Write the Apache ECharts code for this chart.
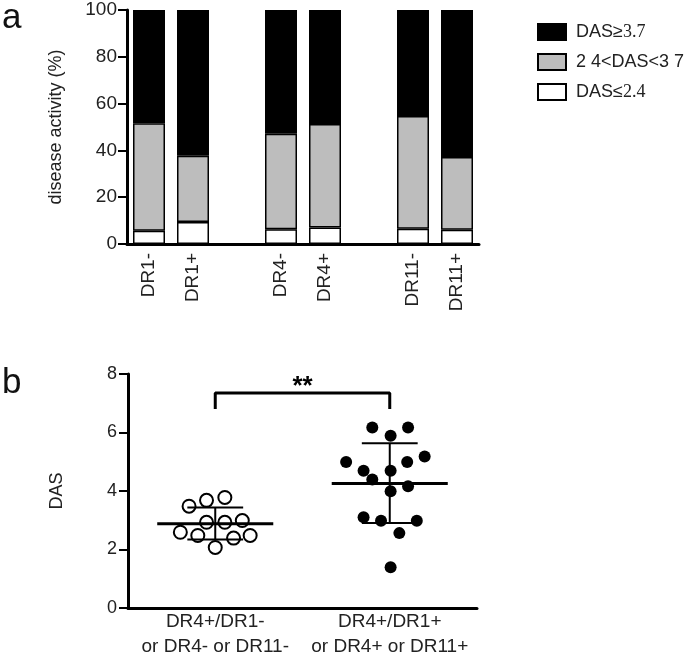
<!DOCTYPE html>
<html><head><meta charset="utf-8">
<script src="https://cdn.jsdelivr.net/npm/echarts@6/dist/echarts.min.js"></script>
<style>html,body{margin:0;padding:0;background:#fff}#c{width:689px;height:655px}</style>
</head><body><div id="c"></div>
<script>
// ---- Panel a data ----
const categories = ['DR1-', 'DR1+', '', 'DR4-', 'DR4+', '', 'DR11-', 'DR11+'];
const lowPct  = [5.7, 9.4, '-', 6.3, 7.1, '-', 6.5, 6.1];      // DAS≤2.4
const midPct  = [45.9, 28.3, '-', 40.8, 44.2, '-', 48.2, 31.1]; // 2.4<DAS<3.7
const highPct = [48.4, 62.3, '-', 52.9, 48.7, '-', 45.3, 62.8]; // DAS≥3.7
const legendNames = ['DAS≥3.7', '2 4<DAS<3 7', 'DAS≤2.4'];
const yTicksA = [0, 20, 40, 60, 80, 100];

// ---- Panel b data ----
const groupLabels = ['DR4+/DR1-\nor DR4- or DR11-', 'DR4+/DR1+\nor DR4+ or DR11+'];
const groupX = [1, 3];
const negPoints = [[0.70,3.48],[0.90,3.68],[1.11,3.78],[0.90,2.93],[1.11,2.93],[1.31,2.99],
                   [0.60,2.59],[0.80,2.48],[1.21,2.39],[1.40,2.48],[1.00,2.07]];
const posPoints = [[2.80,6.17],[3.21,6.17],[3.01,5.89],[2.50,4.99],[3.40,5.18],[3.20,4.99],
                   [2.70,4.69],[3.01,4.69],[2.80,4.39],[3.21,4.16],[3.01,3.99],[2.70,3.10],
                   [2.90,2.98],[3.31,2.98],[3.11,2.56],[3.01,1.39]];
const groupMean = [2.88, 4.26];
const groupSdLow = [2.34, 2.91];
const groupSdHigh = [3.44, 5.63];
const bracket = [[1, 6.80], [1, 7.35], [3, 7.35], [3, 6.80]];
const sigLabel = '**';
const sigPos = [2, 7.55];
const yTicksB = [0, 2, 4, 6, 8];

const font = 'Liberation Sans, Arial, Helvetica, sans-serif';
const chart = echarts.init(document.getElementById('c'));

function legendFmt(name) {
  if (name === 'DAS≥3.7') return 'DAS≥{s|3.7}';
  if (name === 'DAS≤2.4') return 'DAS≤{s|2.4}';
  return name;
}

chart.setOption({
  animation: false,
  backgroundColor: '#fff',
  textStyle: { fontFamily: font, color: '#222' },
  graphic: [
    { type: 'text', left: 2, top: 1, style: { text: 'a', fontSize: 35, fontFamily: font, fill: '#111' } },
    { type: 'text', left: 2, top: 366, style: { text: 'b', fontSize: 35, fontFamily: font, fill: '#111' } }
  ],
  legend: {
    data: legendNames,
    orient: 'vertical',
    left: 532, top: 18,
    itemWidth: 28, itemHeight: 16, itemGap: 12,
    icon: 'rect',
    formatter: legendFmt,
    textStyle: { fontSize: 18, fontFamily: font, color: '#222', padding: [0, 0, 0, 5],
      rich: { s: { fontSize: 18, fontFamily: 'Liberation Serif, Times New Roman, serif', color: '#222' } } }
  },
  grid: [
    { left: 127, right: 210, top: 10, bottom: 411, outerBoundsMode: 'none', containLabel: false },
    { left: 128, right: 212, top: 374, bottom: 47, outerBoundsMode: 'none', containLabel: false }
  ],
  xAxis: [
    { gridIndex: 0, type: 'category', data: categories, boundaryGap: true,
      axisLine: { lineStyle: { color: '#000', width: 3 } },
      axisTick: { show: false },
      axisLabel: { rotate: 90, fontSize: 19, color: '#222', margin: 9, fontFamily: font, interval: 0 } },
    { gridIndex: 1, type: 'value', min: 0, max: 4, interval: 1,
      splitLine: { show: false },
      axisLine: { lineStyle: { color: '#000', width: 3 } },
      axisTick: { show: false },
      axisLabel: { fontSize: 19, color: '#222', margin: 1, lineHeight: 25, fontFamily: font,
        formatter: v => { const i = groupX.indexOf(v); return i >= 0 ? groupLabels[i] : ''; } } }
  ],
  yAxis: [
    { gridIndex: 0, type: 'value', min: 0, max: 100, interval: 20,
      name: 'disease activity (%)', nameLocation: 'middle', nameGap: 62,
      nameTextStyle: { fontSize: 18, color: '#222', fontFamily: font },
      splitLine: { show: false },
      axisLine: { show: true, lineStyle: { color: '#000', width: 3 } },
      axisTick: { show: true, length: 9, lineStyle: { width: 2, color: '#000' } },
      axisLabel: { fontSize: 19, color: '#222', margin: 10, fontFamily: font,
        formatter: v => yTicksA.includes(v) ? String(v) : '' } },
    { gridIndex: 1, type: 'value', min: 0, max: 8, interval: 2,
      name: 'DAS', nameLocation: 'middle', nameGap: 62,
      nameTextStyle: { fontSize: 18, color: '#222', fontFamily: font },
      splitLine: { show: false },
      axisLine: { show: true, lineStyle: { color: '#000', width: 3 } },
      axisTick: { show: true, length: 9, lineStyle: { width: 2, color: '#000' } },
      axisLabel: { fontSize: 18, color: '#222', margin: 11, fontFamily: font,
        formatter: v => yTicksB.includes(v) ? String(v) : '' } }
  ],
  series: [
    { name: 'DAS≤2.4', type: 'bar', stack: 'a', xAxisIndex: 0, yAxisIndex: 0, barWidth: 32,
      data: lowPct, itemStyle: { color: '#fff', borderColor: '#000', borderWidth: 1.5 } },
    { name: '2 4<DAS<3 7', type: 'bar', stack: 'a', xAxisIndex: 0, yAxisIndex: 0, barWidth: 32,
      data: midPct, itemStyle: { color: '#bdbdbd', borderColor: '#000', borderWidth: 1.5 } },
    { name: 'DAS≥3.7', type: 'bar', stack: 'a', xAxisIndex: 0, yAxisIndex: 0, barWidth: 32,
      data: highPct, itemStyle: { color: '#000', borderColor: '#000', borderWidth: 1.5 } },

    { name: 'neg', type: 'scatter', xAxisIndex: 1, yAxisIndex: 1, data: negPoints,
      symbol: 'circle', symbolSize: 13,
      itemStyle: { color: '#fff', borderColor: '#000', borderWidth: 2, opacity: 1 }, z: 3 },
    { name: 'pos', type: 'scatter', xAxisIndex: 1, yAxisIndex: 1, data: posPoints,
      symbol: 'circle', symbolSize: 12, itemStyle: { color: '#000', opacity: 1 }, z: 3 },

    { name: 'meanSd', type: 'custom', xAxisIndex: 1, yAxisIndex: 1, z: 4,
      data: groupX.map((x, i) => [x, groupMean[i], groupSdLow[i], groupSdHigh[i]]),
      renderItem: function (params, api) {
        const x = api.value(0), m = api.value(1), lo = api.value(2), hi = api.value(3);
        const p = (a, b) => api.coord([a, b]);
        const l = (a, b, w) => ({ type: 'line', shape: { x1: a[0], y1: a[1], x2: b[0], y2: b[1] },
          style: { stroke: '#000', lineWidth: w } });
        return { type: 'group', children: [
          l(p(x - 0.665, m), p(x + 0.665, m), 3),
          l(p(x, lo), p(x, hi), 2),
          l(p(x - 0.32, lo), p(x + 0.32, lo), 2),
          l(p(x - 0.32, hi), p(x + 0.32, hi), 2)
        ] };
      } },
    { name: 'bracket', type: 'line', xAxisIndex: 1, yAxisIndex: 1, data: bracket,
      symbol: 'none', lineStyle: { color: '#000', width: 3 }, z: 4 },
    { name: 'sig', type: 'scatter', xAxisIndex: 1, yAxisIndex: 1, data: [sigPos],
      symbolSize: 0, itemStyle: { opacity: 1 },
      label: { show: true, formatter: sigLabel, position: 'inside', fontSize: 26, fontWeight: 'bold',
        color: '#000', fontFamily: font } }
  ]
});
</script></body></html>
